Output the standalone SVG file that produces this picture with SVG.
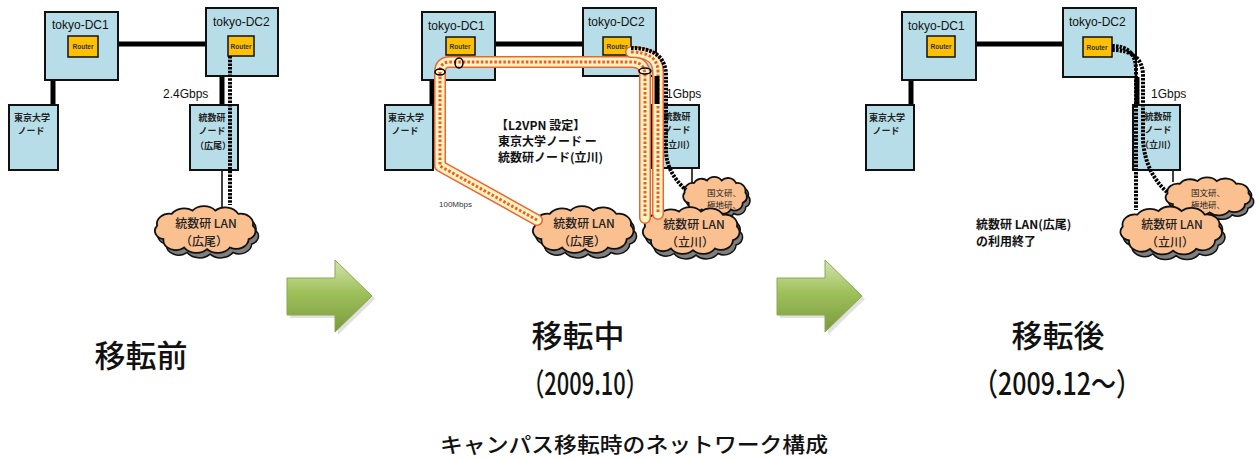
<svg xmlns="http://www.w3.org/2000/svg" xmlns:xlink="http://www.w3.org/1999/xlink" width="1259" height="459" viewBox="0 0 1259 459">
<style>
.box{fill:#B7DEE8;stroke:#111;stroke-width:2}
.rtr{fill:#FFC000;stroke:#111;stroke-width:1.5}
.thick{stroke:#000;stroke-width:5;fill:none}
.thin{stroke:#000;stroke-width:1.5;fill:none}
.dot{stroke:#000;stroke-width:4;fill:none;stroke-dasharray:2.5 1.2}
.bo{stroke:#EC6436;stroke-width:12;fill:none;stroke-linecap:round;stroke-linejoin:round}
.bc{stroke:#FFF3BF;stroke-width:9;fill:none;stroke-linecap:round;stroke-linejoin:round}
.bd{stroke:#EE5A2A;stroke-width:3;fill:none;stroke-dasharray:2.5 2}
.cf{fill:#FAC090;stroke:#111;stroke-width:1.8}
.cs{fill:#7F7F7F;stroke:#111;stroke-width:1.5}
.ring{fill:none;stroke:#000;stroke-width:1.5}
.dc{font-family:'Liberation Sans',Arial,sans-serif;font-size:12px;fill:#111}
.rt{font-family:'Liberation Sans',Arial,sans-serif;font-size:6.5px;font-weight:bold;fill:#333;text-anchor:middle}
.nd{font-family:'Noto Sans CJK JP','Noto Sans',sans-serif;font-size:9px;font-weight:bold;fill:#222;text-anchor:middle}
.cl{font-family:'Noto Sans CJK JP','Noto Sans',sans-serif;font-size:12px;font-weight:500;fill:#222;text-anchor:middle}
.cs9{font-family:'Noto Sans CJK JP','Noto Sans',sans-serif;font-size:8.5px;fill:#222;text-anchor:middle}
.bw{font-family:'Liberation Sans',Arial,sans-serif;font-size:12px;fill:#111}
.lab{font-family:'Noto Sans CJK JP','Noto Sans',sans-serif;font-size:12px;font-weight:bold;fill:#111}
.big{font-family:'Noto Sans CJK JP','Noto Sans',sans-serif;font-size:31px;font-weight:500;fill:#111;text-anchor:middle}
.cap{font-family:'Noto Sans CJK JP','Noto Sans',sans-serif;font-size:21px;font-weight:500;fill:#111;text-anchor:middle}
</style>
<defs>
<path id="cloud" vector-effect="non-scaling-stroke" d="M-40,12 a10,10 0 0 1 -6,-16 a12,12 0 0 1 14,-14 a14,14 0 0 1 20,-4 a14,14 0 0 1 22,0 a14,14 0 0 1 22,4 a12,12 0 0 1 14,14 a10,10 0 0 1 -4,16 a12,12 0 0 1 -18,10 a14,14 0 0 1 -22,2 a14,14 0 0 1 -22,-2 a12,12 0 0 1 -20,-10 Z"/>
<linearGradient id="grn" x1="0" y1="0" x2="0" y2="1">
<stop offset="0" stop-color="#D3E3AE"/>
<stop offset="0.45" stop-color="#9FC15B"/>
<stop offset="1" stop-color="#79993D"/>
</linearGradient>
</defs>
<rect width="1259" height="459" fill="#fff"/>

<g id="connectors">
<line class="thick" x1="118" y1="44" x2="206" y2="44"/>
<line class="thick" x1="53" y1="80" x2="53" y2="105"/>
<line class="thick" x1="222" y1="76" x2="222" y2="105"/>
<line class="thin" x1="222" y1="170" x2="222" y2="208"/>
<line class="thick" x1="495" y1="44" x2="583" y2="44"/>
<line class="thick" x1="432" y1="80" x2="432" y2="105"/>
<line class="thin" x1="692" y1="168" x2="692" y2="190"/>
<line class="thick" x1="976" y1="44" x2="1063" y2="44"/>
<line class="thick" x1="911" y1="80" x2="911" y2="105"/>
<line class="thick" x1="1137" y1="77" x2="1137" y2="105"/>
<line class="thin" x1="1173" y1="170" x2="1173" y2="182"/>
</g>

<g id="p1-dc1"><rect class="box" x="45" y="12" width="73" height="68"/><text class="dc" x="52" y="29">tokyo-DC1</text><rect class="rtr" x="68" y="36" width="30" height="21"/><text class="rt" x="83" y="49">Router</text></g>
<g id="p1-dc2"><rect class="box" x="206" y="8" width="72" height="68"/><text class="dc" x="213" y="26">tokyo-DC2</text><rect class="rtr" x="228" y="36" width="26" height="20"/><text class="rt" x="241" y="49">Router</text></g>
<g id="p1-todai"><rect class="box" x="9" y="105" width="49" height="65"/><text class="nd" x="32" y="121">東京大学</text><text class="nd" x="31" y="134">ノード</text></g>
<g id="p1-ism"><rect class="box" x="190" y="105" width="48" height="65"/><text class="nd" x="212" y="121">統数研</text><text class="nd" x="212" y="134">ノード</text><text class="nd" x="213" y="149">（広尾）</text></g>
<g id="p1-lan"><use href="#cloud" class="cs" transform="translate(208,234) scale(1.04,0.84)"/><use href="#cloud" class="cf" transform="translate(205,229) scale(1.04,0.84)"/><text class="cl" x="206" y="228">統数研 LAN</text><text class="cl" x="204" y="246">（広尾）</text></g>
<text class="bw" x="163" y="98">2.4Gbps</text>

<g id="p2-dc1"><rect class="box" x="422" y="12" width="73" height="68"/><text class="dc" x="428" y="30">tokyo-DC1</text><rect class="rtr" x="446" y="37" width="29" height="18"/><text class="rt" x="460" y="49">Router</text></g>
<g id="p2-dc2"><rect class="box" x="583" y="8" width="73" height="68"/><text class="dc" x="588" y="26">tokyo-DC2</text><rect class="rtr" x="603" y="37" width="28" height="18"/><text class="rt" x="617" y="49">Router</text></g>
<g id="p2-todai"><rect class="box" x="385" y="105" width="48" height="65"/><text class="nd" x="406" y="121">東京大学</text><text class="nd" x="405" y="134">ノード</text></g>
<g id="p2-ism"><rect class="box" x="652" y="105" width="47" height="63"/><text class="nd" x="677" y="120">統数研</text><text class="nd" x="677" y="133">ノード</text><text class="nd" x="677" y="148">（立川）</text></g>
<g id="p2-lan-hiroo"><use href="#cloud" class="cs" transform="translate(586,234) scale(1.04,0.84)"/><use href="#cloud" class="cf" transform="translate(583,229) scale(1.04,0.84)"/><text class="cl" x="584" y="228">統数研 LAN</text><text class="cl" x="582" y="246">（広尾）</text></g>
<g id="p2-lan-other"><use href="#cloud" class="cs" transform="translate(718,199) scale(0.66,0.66)"/><use href="#cloud" class="cf" transform="translate(715,195) scale(0.66,0.66)"/><text class="cs9" x="724" y="196">国文研、</text><text class="cs9" x="724" y="208">極地研、</text></g>
<g id="p2-lan-tachikawa"><use href="#cloud" class="cs" transform="translate(694,235) scale(1.0,0.84)"/><use href="#cloud" class="cf" transform="translate(691,230) scale(1.0,0.84)"/><text class="cl" x="694" y="229">統数研 LAN</text><text class="cl" x="690" y="247">（立川）</text></g>

<g id="p3-dc1"><rect class="box" x="902" y="12" width="74" height="68"/><text class="dc" x="908" y="30">tokyo-DC1</text><rect class="rtr" x="927" y="36" width="28" height="21"/><text class="rt" x="941" y="49">Router</text></g>
<g id="p3-dc2"><rect class="box" x="1063" y="8" width="73" height="69"/><text class="dc" x="1069" y="26">tokyo-DC2</text><rect class="rtr" x="1083" y="37" width="29" height="20"/><text class="rt" x="1097" y="50">Router</text></g>
<g id="p3-todai"><rect class="box" x="866" y="105" width="48" height="65"/><text class="nd" x="887" y="121">東京大学</text><text class="nd" x="886" y="134">ノード</text></g>
<g id="p3-ism"><rect class="box" x="1133" y="105" width="47" height="65"/><text class="nd" x="1158" y="120">統数研</text><text class="nd" x="1158" y="133">ノード</text><text class="nd" x="1158" y="148">（立川）</text></g>
<g id="p3-lan-other"><use href="#cloud" class="cs" transform="translate(1211,200) scale(0.88,0.68)"/><use href="#cloud" class="cf" transform="translate(1208,196) scale(0.88,0.68)"/><text class="cs9" x="1208" y="196">国文研、</text><text class="cs9" x="1208" y="208">極地研、</text></g>
<g id="p3-lan-tachikawa"><use href="#cloud" class="cs" transform="translate(1174,235) scale(1.05,0.86)"/><use href="#cloud" class="cf" transform="translate(1171,230) scale(1.05,0.86)"/><text class="cl" x="1172" y="229">統数研 LAN</text><text class="cl" x="1170" y="247">（立川）</text></g>

<g id="overlay-connectors">
<line class="dot" x1="230" y1="56" x2="230" y2="205"/>
<path class="bo" d="M537,220 L440,166 V72 Q440,62 450,62 H632 Q645,62 645,76 V218"/>
<path class="bc" d="M537,220 L440,166 V72 Q440,62 450,62 H632 Q645,62 645,76 V218"/>
<path class="bd" d="M537,220 L440,166 V72 Q440,62 450,62 H632 Q645,62 645,76 V218"/>
<path class="bo" d="M631,52 Q658,52 658,72 V214"/>
<path class="bc" d="M631,52 Q658,52 658,72 V214"/>
<path class="bd" d="M631,52 Q658,52 658,72 V214"/>
<line class="thick" x1="657" y1="76" x2="657" y2="104"/>
<path class="dot" d="M631,48 Q666,48 666,76 V150 Q666,172 686,190"/>
<ellipse class="ring" cx="459" cy="63" rx="4" ry="5"/>
<ellipse class="ring" cx="440" cy="72" rx="5" ry="3"/>
<ellipse class="ring" cx="645" cy="71" rx="6" ry="3"/>
<path class="dot" d="M1112,46 Q1136,46 1136,70 V210"/>
<path class="dot" d="M1112,50 Q1143,50 1143,76 V140 Q1145,172 1167,192"/>
</g>

<text class="bw" x="666" y="98">1Gbps</text>
<text class="bw" x="1151" y="98">1Gbps</text>
<text class="lab" x="496" y="130">【L2VPN 設定】</text>
<text class="lab" x="498" y="146">東京大学ノード ー</text>
<text class="lab" x="498" y="162">統数研ノード(立川)</text>
<text x="439" y="207" font-family="'Liberation Sans',Arial,sans-serif" font-size="8" fill="#333">100Mbps</text>
<text class="lab" x="976" y="229">統数研 LAN(広尾)</text>
<text class="lab" x="976" y="246">の利用終了</text>

<g id="arrow1"><path d="M290,281 H338 V263 L375,299 L338,335 V318 H290 Z" fill="#000" opacity="0.12"/><path d="M287,278 H335 V260 L372,296 L335,332 V315 H287 Z" fill="url(#grn)" stroke="#8AAA4E" stroke-width="1"/></g>
<g id="arrow2"><path d="M780,281 H828 V263 L865,299 L828,335 V318 H780 Z" fill="#000" opacity="0.12"/><path d="M777,278 H825 V260 L862,296 L825,332 V315 H777 Z" fill="url(#grn)" stroke="#8AAA4E" stroke-width="1"/></g>

<text class="big" x="141" y="367">移転前</text>
<text class="big" x="578" y="347">移転中</text>
<text class="big" x="585" y="395" textLength="125" lengthAdjust="spacingAndGlyphs">（2009.10）</text>
<text class="big" x="1058" y="347">移転後</text>
<text class="big" x="1057" y="395" textLength="168" lengthAdjust="spacingAndGlyphs">（2009.12～）</text>
<text class="cap" x="634" y="452" textLength="388" lengthAdjust="spacingAndGlyphs">キャンパス移転時のネットワーク構成</text>
</svg>
